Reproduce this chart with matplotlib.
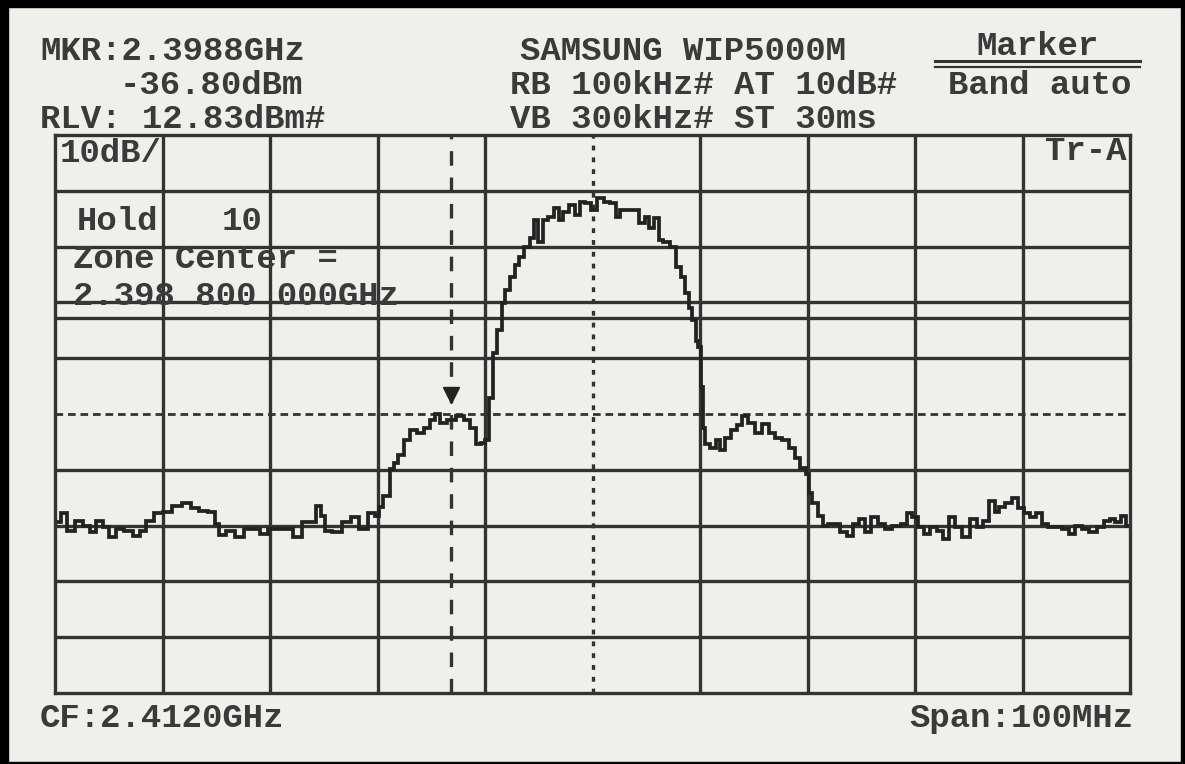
import numpy as np
import matplotlib.pyplot as plt
from matplotlib.patches import Rectangle
from matplotlib.lines import Line2D
import matplotlib.transforms as mtransforms

plt.rcParams["lines.scale_dashes"] = False

# Analyzer settings
center_mhz = 2412.0
span_mhz = 100.0
ref_level = 12.83
db_per_div = 10
display_line = -20.0
mkr_freq = 2398.8
mkr_level = -36.80

# Trace (MHz, dBm)
freq = [2362.3, 2362.9, 2363.4, 2364.3, 2365.0, 2365.5, 2366.2, 2366.7, 2367.3, 2368.1,
        2368.8, 2369.7, 2370.2, 2370.8, 2371.6, 2372.4, 2373.4, 2374.3, 2375.0, 2375.8,
        2376.6, 2377.1, 2377.5, 2378.3, 2379.2, 2379.9, 2380.8, 2381.4, 2382.3, 2383.6,
        2384.6, 2385.4, 2386.0, 2386.5, 2386.9, 2387.3, 2388.2, 2389.2, 2389.9, 2390.7,
        2391.5, 2392.0, 2392.2, 2392.9, 2393.4, 2393.6, 2394.3, 2394.7, 2395.3, 2396.0,
        2396.6, 2397.1, 2397.6, 2398.1, 2398.9, 2399.7, 2400.3, 2400.9, 2401.4, 2401.8,
        2402.2, 2402.5, 2402.9, 2403.4, 2403.7, 2404.1, 2404.5, 2405.0, 2405.4, 2405.9,
        2406.4, 2406.7, 2407.1, 2407.6, 2408.2, 2408.7, 2409.0, 2409.6, 2410.1, 2410.6,
        2411.0, 2411.6, 2412.2, 2412.7, 2413.4, 2413.9, 2414.4, 2414.8, 2415.5, 2416.1,
        2416.6, 2417.1, 2417.5, 2418.0, 2418.3, 2418.9, 2419.5, 2420.0, 2420.4, 2420.8,
        2421.1, 2421.5, 2421.7, 2422.0, 2422.2, 2422.3, 2422.7, 2423.2, 2423.7, 2424.1,
        2424.6, 2425.1, 2425.7, 2426.2, 2426.8, 2427.4, 2428.1, 2428.7, 2429.3, 2429.9,
        2430.6, 2431.0, 2431.6, 2432.1, 2432.2, 2432.7, 2433.2, 2433.6, 2434.3, 2434.7,
        2435.3, 2436.0, 2436.4, 2437.1, 2437.6, 2438.3, 2438.9, 2439.5, 2440.3, 2441.1,
        2441.5, 2442.0, 2442.5, 2443.1, 2443.7, 2444.3, 2445.0, 2445.4, 2446.0, 2446.8,
        2447.4, 2448.1, 2448.5, 2449.2, 2449.6, 2450.1, 2450.7, 2451.3, 2451.8, 2452.4,
        2453.0, 2453.6, 2454.1, 2454.7, 2455.3, 2456.0, 2456.6, 2457.2, 2457.8, 2458.6,
        2459.2, 2459.9, 2460.4, 2460.9, 2461.4, 2461.8]
level = [-56.6, -55.0, -58.1, -56.3, -57.2, -58.4, -56.3, -57.5, -59.3, -57.7,
         -58.1, -59.0, -58.1, -56.3, -55.0, -54.8, -53.6, -53.2, -54.1, -54.5,
         -54.8, -56.8, -58.8, -58.1, -59.3, -57.7, -57.7, -58.6, -57.7, -57.7,
         -59.3, -56.6, -56.6, -53.6, -55.4, -58.1, -58.4, -56.6, -55.7, -57.7,
         -55.0, -55.4, -53.9, -51.8, -47.0, -45.9, -44.6, -41.9, -40.1, -40.5,
         -39.6, -38.3, -37.1, -38.7, -38.3, -37.5, -38.3, -39.6, -42.5, -42.3,
         -41.9, -34.3, -26.3, -22.2, -17.3, -15.0, -12.7, -10.5, -9.1, -7.3,
         -5.7, -2.4, -6.4, -2.4, -1.9, -0.3, -2.4, -1.0, 0.3, -1.5,
         0.8, 0.6, -0.6, 1.5, 0.8, 0.6, -1.9, -0.6, -0.6, -0.6,
         -3.0, -1.9, -3.9, -2.1, -6.0, -6.4, -7.3, -10.9, -12.7, -15.5,
         -18.2, -20.4, -24.0, -25.2, -32.4, -39.6, -42.5, -43.2, -41.9, -43.7,
         -41.4, -40.1, -39.2, -37.5, -38.7, -40.5, -38.9, -40.5, -41.4, -41.9,
         -43.2, -45.0, -46.8, -47.9, -51.3, -53.1, -55.4, -57.2, -56.8, -56.8,
         -58.4, -59.0, -56.8, -55.9, -58.4, -55.7, -56.8, -57.7, -57.2, -56.8,
         -55.0, -55.7, -57.5, -58.6, -57.5, -58.1, -59.5, -55.7, -57.5, -59.3,
         -55.9, -57.5, -56.3, -52.7, -54.8, -53.9, -53.1, -52.3, -54.1, -55.0,
         -55.7, -55.0, -56.8, -57.5, -57.5, -57.7, -58.6, -57.2, -57.7, -58.4,
         -57.5, -56.3, -55.9, -56.6, -55.4, -57.2]

paper = "#efefec"
ink = "#333333"
font = "Liberation Mono"
fs = 24.5

W, H = 1185, 764
fig = plt.figure(figsize=(W / 100, H / 100), dpi=100)
fig.patch.set_facecolor(paper)

# screen grid area
ax = fig.add_axes([55 / W, 1 - 693 / H, (1130 - 55) / W, (693 - 135) / H])
ax.set_facecolor(paper)
x0 = center_mhz - span_mhz / 2
y0 = ref_level - 10 * db_per_div
ax.set_xlim(x0, x0 + span_mhz)
ax.set_ylim(y0, ref_level)
ax.set_xticks([])
ax.set_yticks([])
for s in ax.spines.values():
    s.set_color(ink)
    s.set_linewidth(2.4)

for k in range(1, 10):
    fx = x0 + k * span_mhz / 10
    ly = ref_level - k * db_per_div
    if k == 5:
        ax.axvline(fx, color=ink, lw=2.4, linestyle=(0, (3.5, 5)))
        ax.axhline(ly, color=ink, lw=2.0, linestyle=(0, (5.5, 3.5)))
    else:
        ax.axvline(fx, color=ink, lw=2.4)
        ax.axhline(ly, color=ink, lw=2.4)

# display line
ax.axhline(display_line, color=ink, lw=2.4)

# marker line
ax.axvline(mkr_freq, color=ink, lw=2.4, linestyle=(0, (10.5, 8.5)))

# trace
ax.plot(freq, level, color="#222222", lw=2.7, drawstyle="steps-mid",
        solid_joinstyle="miter")

# marker symbol above the marked level
off = mtransforms.ScaledTranslation(0, 12 / 72, fig.dpi_scale_trans)
ax.plot([mkr_freq], [mkr_level], marker="v", ms=12, color="#222222",
        transform=ax.transData + off, clip_on=False)


def put(px, py, s, ha="left"):
    fig.text(px / W, 1 - py / H, s, ha=ha, va="baseline", fontsize=fs,
             family=font, weight="bold", color="#3a3a3a")


put(40, 60, "MKR:2.3988GHz")
put(120, 94, "-36.80dBm")
put(40, 128, "RLV: 12.83dBm#")
put(520, 60, "SAMSUNG WIP5000M")
put(510, 94, "RB 100kHz# AT 10dB#")
put(510, 128, "VB 300kHz# ST 30ms")
put(1037, 55, "Marker", ha="center")
put(948, 94, "Band auto")
put(60, 162, "10dB/")
put(1127, 160, "Tr-A", ha="right")
put(77, 230, "Hold")
put(262, 230, "10", ha="right")
put(73, 268, "Zone Center =")
put(73, 305, "2.398 800 000GHz")
put(40, 727, "CF:2.4120GHz")
put(1133, 727, "Span:100MHz", ha="right")

# double underline under "Marker"
fig.add_artist(Line2D([935 / W, 1140 / W], [1 - 61 / H, 1 - 61 / H], color=ink, lw=2.2))
fig.add_artist(Line2D([935 / W, 1140 / W], [1 - 67 / H, 1 - 67 / H], color=ink, lw=1.6))

# scan border
for r in [(0, 1 - 7 / H, 1, 7 / H), (0, 0, 8 / W, 1), (1 - 4 / W, 0, 4 / W, 1), (0, 0, 1, 2 / H)]:
    fig.add_artist(Rectangle(r[:2], r[2], r[3], transform=fig.transFigure,
                             color="black", zorder=10))

fig.savefig("out.png", dpi=100, facecolor=paper)
